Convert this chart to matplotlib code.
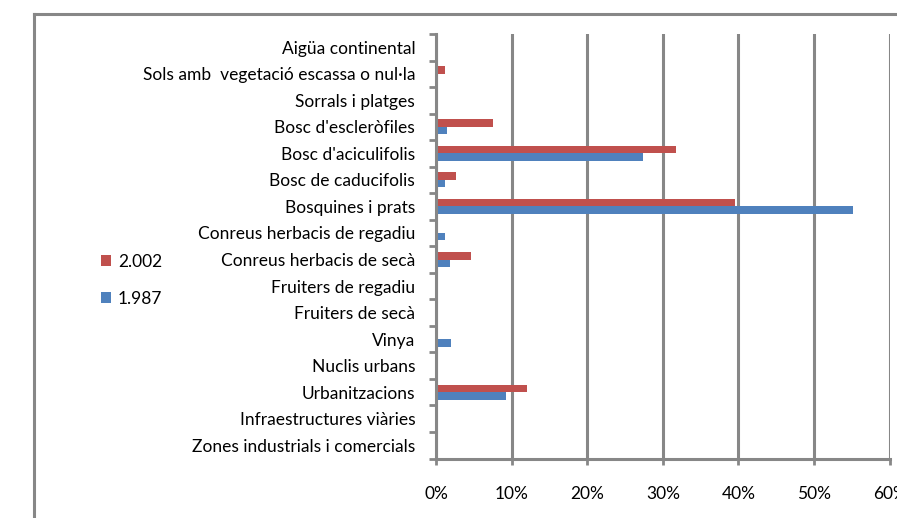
import matplotlib
matplotlib.use("Agg")
import matplotlib.pyplot as plt
from matplotlib.patches import Patch
from matplotlib.lines import Line2D
import numpy as np

categories = [
    "Aigüa continental",
    "Sols amb  vegetació escassa o nul·la",
    "Sorrals i platges",
    "Bosc d'escleròfiles",
    "Bosc d'aciculifolis",
    "Bosc de caducifolis",
    "Bosquines i prats",
    "Conreus herbacis de regadiu",
    "Conreus herbacis de secà",
    "Fruiters de regadiu",
    "Fruiters de secà",
    "Vinya",
    "Nuclis urbans",
    "Urbanitzacions",
    "Infraestructures viàries",
    "Zones industrials i comercials",
]
vals_2002 = [0.0, 1.2, 0.0, 7.5, 31.7, 2.6, 39.6, 0.3, 4.6, 0.0, 0.0, 0.0, 0.0, 12.1, 0.3, 0.0]
vals_1987 = [0.0, 0.3, 0.0, 1.4, 27.4, 1.2, 55.1, 1.2, 1.8, 0.3, 0.0, 2.0, 0.0, 9.3, 0.0, 0.0]
series_labels = ["2.002", "1.987"]
xticks = [0, 10, 20, 30, 40, 50, 60]

RED = "#C0504D"
BLUE = "#4F81BD"
GRID = "#878787"
FONT = "Lato"
FS = 12.5

W, H = 897, 518
fig = plt.figure(figsize=(W / 100, H / 100), dpi=100)
ax = fig.add_axes([436 / W, 1 - 458.5 / H, (889.7 - 436) / W, (458.5 - 34) / H])

n = len(categories)
y = np.arange(n)[::-1]  # first category at top
bh = 0.28
ax.barh(y + bh / 2, vals_2002, height=bh, color=RED, zorder=3, label=series_labels[0])
ax.barh(y - bh / 2, vals_1987, height=bh, color=BLUE, zorder=3, label=series_labels[1])

ax.set_xlim(0, 60)
ax.set_ylim(-0.5, n - 0.5)
ax.set_xticks(xticks)
ax.set_xticklabels([f"{t}%" for t in xticks], fontsize=FS, family=FONT)
ax.set_yticks(y)
ax.set_yticklabels(categories, fontsize=FS, family=FONT)
ax.set_yticks(np.arange(n + 1) - 0.5, minor=True)
ax.tick_params(axis="y", which="major", length=0, pad=15)
ax.tick_params(axis="y", which="minor", length=5, width=2, color=GRID, direction="out")
ax.tick_params(axis="x", which="major", length=4, width=2, color=GRID, pad=16)

ax.grid(axis="x", color=GRID, linewidth=2.2, zorder=1)
for s in ["top", "right"]:
    ax.spines[s].set_visible(False)
for s in ["left", "bottom"]:
    ax.spines[s].set_color(GRID)
    ax.spines[s].set_linewidth(2.2)
    ax.spines[s].set_zorder(4)

handles = [Patch(facecolor=RED), Patch(facecolor=BLUE)]
fig.legend(handles, series_labels, loc="center left",
           bbox_to_anchor=(85 / W, 1 - 280.5 / H), frameon=False,
           prop={"family": FONT, "size": FS}, handlelength=0.6, handleheight=0.6,
           handletextpad=0.4, labelspacing=1.2)

# chart-area border (top and left; the rest lies outside the image)
fig.add_artist(Line2D([33.5 / W, 1], [1 - 13.5 / H, 1 - 13.5 / H], color=GRID, lw=2.2,
                      transform=fig.transFigure))
fig.add_artist(Line2D([33.5 / W, 33.5 / W], [0, 1 - 13.5 / H], color=GRID, lw=2.2,
                      transform=fig.transFigure))

fig.savefig("out.png", dpi=100, facecolor="white")
